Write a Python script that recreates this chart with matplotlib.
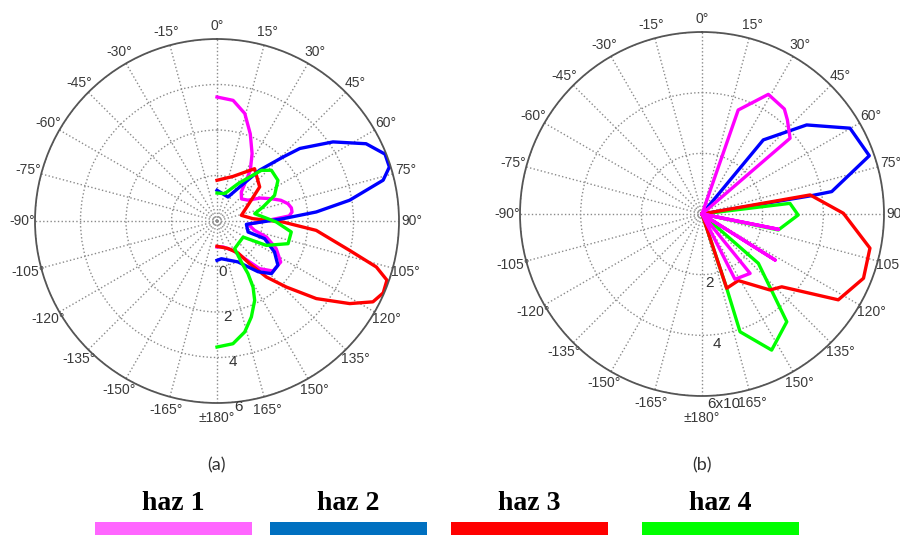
import numpy as np
import matplotlib.pyplot as plt
from matplotlib.patches import Rectangle

# --- (a) patrones suaves : angulo (grados, horario desde arriba) / radio ---
th_a_haz1 = [0, 7.6, 14.5, 20.9, 27.5, 33.3, 40, 48, 56, 62, 67.7, 72, 76.3, 80, 83.2, 86, 88.6,
             96, 104, 108, 115, 122.8, 131.8, 138.2, 143.7, 151.4, 167, 180]
r_a_haz1 = [3.45, 3.35, 2.88, 2.10, 1.34, 0.67, -0.34, -0.55, -0.36, 0.15, 0.58, 0.95, 1.21, 1.32, 1.32, 1.18, 0.39,
            -0.62, -0.30, 0.29, 0.87, 1.33, 1.30, 0.81, 0.05, -0.53, -0.83, -0.86]

th_a_haz2 = [0, 24.6, 33.7, 40, 45.9, 48.8, 55.7, 62.6, 68.3, 72.6, 76.2, 81.1, 84.8, 88,
             96.5, 109.5, 110.3, 118.3, 126, 134, 141, 152.9, 173.4, 180]
r_a_haz2 = [-0.65, -0.84, -0.20, 0.92, 2.04, 2.84, 4.17, 5.38, 5.95, 5.94, 5.52, 3.90, 2.38, 0.90,
            -0.70, -0.55, 0.23, 0.87, 1.31, 1.33, 0.87, 0.02, -0.33, -0.27]

th_a_haz3 = [0, 19.7, 35.7, 51.4, 63.2, 76.9, 86.3, 90.9, 95.4, 102.5, 106.1, 109.2, 113.4, 117.4,
             121.9, 128, 133.6, 138.6, 142.6, 146.7, 158.3, 180]
r_a_haz3 = [-0.21, 0.08, 0.83, 0.40, -0.48, -0.90, -0.42, 0.90, 2.38, 3.97, 5.29, 5.91, 5.96, 5.72,
            4.87, 3.54, 2.21, 1.28, 0.36, -0.32, -0.70, -0.89]

th_a_haz4 = [0, 15.7, 29.4, 41.2, 47, 56.3, 66, 73.1, 79, 91, 98.4, 107.7, 116.3, 121.6,
             147.4, 149.3, 149.5, 151.4, 154.6, 160.3, 166, 172.6, 180]
r_a_haz4 = [-0.77, -0.75, -0.12, 0.96, 1.27, 1.22, 0.77, 0.11, -0.31, 0.61, 1.30, 1.28, 0.42, -0.65,
            -0.56, 0.10, 0.68, 1.31, 1.86, 2.48, 3.03, 3.44, 3.54]

# --- (b) patrones medidos (pocos puntos) ---
th_b_haz1 = [0, 19.2, 29, 38.1, 42.2, 49.3, 49.3, 101.3, 101.3, 122.2, 122.2, 141, 153.2, 153.2]
r_b_haz1 = [0, 3.63, 4.51, 4.40, 4.19, 3.83, 0, 2.57, 0, 2.85, 0, 2.52, 2.41, 0]

th_b_haz2 = [0, 39.6, 49.6, 59.9, 70.8, 80.2, 80.5, 80.5]
r_b_haz2 = [0, 3.17, 4.53, 5.64, 5.84, 4.34, 3.65, 0]

th_b_haz3 = [0, 80, 89.7, 101.5, 111.7, 122.2, 132.4, 138.2, 151.4, 161.6, 161.6]
r_b_haz3 = [0, 3.62, 4.66, 5.65, 5.73, 5.31, 3.56, 3.36, 2.50, 2.58, 0]

th_b_haz4 = [83.1, 83.1, 90.6, 101.8, 101.8, 131.2, 141.8, 152.9, 162.1, 161.6, 161.6]
r_b_haz4 = [0, 2.92, 3.17, 2.57, 0, 2.47, 4.52, 5.04, 4.08, 2.58, 0]

# etiquetas radiales (valor de anillo, texto)
rt_a = [0, 2, 4, 6]
rl_a = ["0", "2", "4", "6"]
rt_b = [2, 4, 6]
rl_b = ["2", "4", "6x10"]

angulos = np.arange(0, 360, 15)
etiquetas_ang = []
for a in angulos:
    if a == 180:
        etiquetas_ang.append("")  # se pone aparte, algo mas abajo
    elif a < 180:
        etiquetas_ang.append(f"{a}°")
    else:
        etiquetas_ang.append(f"-{360 - a}°")

nombres = ["haz 1", "haz 2", "haz 3", "haz 4"]
col_lineas = ["#ff00ff", "#0000ff", "#ff0000", "#00ff00"]
col_barras = ["#ff66ff", "#0070c0", "#ff0000", "#00ff00"]


def estilo_polar(ax, rmin, rticks, rlabels, desfase):
    ax.set_theta_zero_location('N')
    ax.set_theta_direction(-1)
    ax.set_ylim(rmin, 6)
    ax.set_yticks(rticks)
    ax.set_yticklabels([])
    ax.set_xticks(np.deg2rad(angulos))
    ax.set_xticklabels(etiquetas_ang)
    ax.tick_params(axis='x', pad=-1, labelsize=10, labelcolor='#3a3a3a')
    ax.grid(True, linestyle=':', color='#8a8a8a', linewidth=1.0)
    ax.spines['polar'].set_color('#555555')
    ax.spines['polar'].set_linewidth(1.3)
    for rv, txt in zip(rticks, rlabels):
        ax.text(np.deg2rad(173.5), rv + desfase, txt, ha='center', va='center',
                fontsize=11, color='#333333', clip_on=False)


plt.rcParams['font.family'] = ['Liberation Sans', 'DejaVu Sans']
fig = plt.figure(figsize=(9, 5.35), dpi=100)

ax_a = fig.add_axes([35 / 900, 1 - 403 / 535, 364 / 900, 364 / 535], projection='polar')
estilo_polar(ax_a, -2, rt_a, rl_a, 0.25)
datos_a = [(th_a_haz1, r_a_haz1), (th_a_haz3, r_a_haz3), (th_a_haz2, r_a_haz2), (th_a_haz4, r_a_haz4)]
cols_a = [col_lineas[0], col_lineas[2], col_lineas[1], col_lineas[3]]
for (th, r), c in zip(datos_a, cols_a):
    ax_a.plot(np.deg2rad(th), r, color=c, linewidth=2.4)

ax_b = fig.add_axes([520 / 900, 1 - 396 / 535, 364 / 900, 364 / 535], projection='polar')
estilo_polar(ax_b, 0, rt_b, rl_b, 0.3)
datos_b = [(th_b_haz2, r_b_haz2), (th_b_haz4, r_b_haz4), (th_b_haz3, r_b_haz3), (th_b_haz1, r_b_haz1)]
cols_b = [col_lineas[1], col_lineas[3], col_lineas[2], col_lineas[0]]
for (th, r), c in zip(datos_b, cols_b):
    ax_b.plot(np.deg2rad(th), r, color=c, linewidth=2.4)

# etiqueta ±180° bajo cada circulo
fig.text(217 / 900, 1 - 418 / 535, "±180°", ha='center', va='center', fontsize=10, color='#3a3a3a')
fig.text(702 / 900, 1 - 418 / 535, "±180°", ha='center', va='center', fontsize=10, color='#3a3a3a')

fig.text(217 / 900, 1 - 465 / 535, "(a)", ha='center', va='center', fontsize=13,
         color='#333333', family='Lato')
fig.text(702 / 900, 1 - 465 / 535, "(b)", ha='center', va='center', fontsize=13,
         color='#333333', family='Lato')

# leyenda de barras de color
x_barras = [95, 270, 451, 642]
for nombre, x0, c in zip(nombres, x_barras, col_barras):
    fig.add_artist(Rectangle((x0 / 900, 0), 157 / 900, 13 / 535, transform=fig.transFigure,
                             facecolor=c, edgecolor='none'))
    fig.text((x0 + 78) / 900, 1 - 503 / 535, nombre, ha='center', va='center', fontsize=20,
             fontweight='bold', family='Liberation Serif', color='black')

fig.savefig("out.png", dpi=100)
